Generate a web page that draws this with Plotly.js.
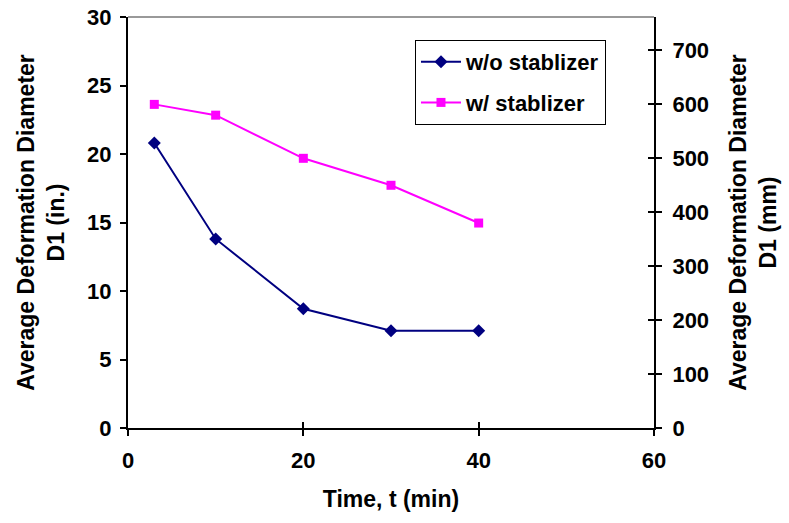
<!DOCTYPE html>
<html>
<head>
<meta charset="utf-8">
<script src="https://cdn.plot.ly/plotly-3.0.1.min.js"></script>
<style>html,body{margin:0;padding:0;background:#fff;}#chart{width:789px;height:523px;}</style>
</head>
<body>
<div id="chart"></div>
<script>
// Data
const timeMin = [3, 10, 20, 30, 40];
const withoutStabilizerIn = [20.8, 13.8, 8.7, 7.1, 7.1];   // left axis, inches
const withStabilizerMm = [600, 580, 500, 450, 380];         // right axis, mm
const seriesNames = ['w/o stablizer', 'w/ stablizer'];

const fam = '"Liberation Sans", Arial, sans-serif';
const tickFont = {family: fam, size: 22, color: '#000', weight: 'bold'};
const titleFont = {family: fam, size: 23, color: '#000', weight: 'bold'};
const legendFont = {family: fam, size: 22, color: '#000', weight: 'bold'};

const traces = [
  {x: timeMin, y: withoutStabilizerIn, name: seriesNames[0], type: 'scatter', mode: 'lines+markers',
   line: {color: '#000080', width: 2}, marker: {symbol: 'diamond', size: 10, color: '#000080'},
   yaxis: 'y', legendgroup: 'a'},
  {x: timeMin, y: withStabilizerMm, name: seriesNames[1], type: 'scatter', mode: 'lines+markers',
   line: {color: '#FF00FF', width: 2}, marker: {symbol: 'square', size: 9, color: '#FF00FF'},
   yaxis: 'y2', legendgroup: 'b'}
];

const layout = {
  width: 789, height: 523,
  margin: {l: 128, r: 135, t: 17, b: 95},
  paper_bgcolor: '#fff', plot_bgcolor: '#fff',
  font: tickFont,
  showlegend: true,
  legend: {x: 0.5456, y: 0.944, xanchor: 'left', yanchor: 'top',
           bordercolor: '#000', borderwidth: 1, bgcolor: '#fff',
           font: legendFont, tracegroupgap: 9, traceorder: 'grouped', itemwidth: 40},
  xaxis: {range: [0, 60], dtick: 20, tick0: 0, showgrid: false, zeroline: false,
          showline: true, linecolor: '#000', linewidth: 2, ticks: 'outside', ticklen: 6, tickwidth: 2, tickcolor: '#000',
          tickfont: tickFont, ticklabelstandoff: 6,
          title: {text: 'Time, t (min)', font: titleFont, standoff: 18}},
  xaxis2: {range: [0, 60], dtick: 20, tick0: 0, overlaying: 'x', showgrid: false, zeroline: false,
           showticklabels: false, ticks: 'inside', ticklen: 6, tickwidth: 2, tickcolor: '#000', showline: false},
  yaxis: {range: [0, 30], dtick: 5, showgrid: false, zeroline: false,
          showline: true, linecolor: '#000', linewidth: 2, ticks: 'outside', ticklen: 6, tickwidth: 2, tickcolor: '#000',
          tickfont: tickFont, ticklabelstandoff: 4,
          title: {text: 'Average Deformation Diameter<br>D1 (in.)', font: titleFont, standoff: 16}},
  yaxis2: {range: [0, 762], dtick: 100, overlaying: 'y', side: 'right', showgrid: false, zeroline: false,
           showline: true, linecolor: '#000', linewidth: 2, ticks: 'outside', ticklen: 6, tickwidth: 2, tickcolor: '#000',
           tickfont: tickFont, ticklabelstandoff: 6,
           title: {text: 'Average Deformation Diameter<br>D1 (mm)', font: titleFont, standoff: 22}},
  yaxis3: {range: [0, 762], dtick: 100, overlaying: 'y', side: 'right', anchor: 'x', showgrid: false, zeroline: false,
           showticklabels: false, ticks: 'inside', ticklen: 6, tickwidth: 2, tickcolor: '#000', showline: false},
  shapes: [{type: 'line', xref: 'paper', yref: 'paper', x0: 0, x1: 1, y0: 1, y1: 1,
            line: {color: '#999', width: 2}}]
};

// dummy trace to activate the tick-only axes
traces.push({x: [null], y: [null], xaxis: 'x2', yaxis: 'y3', showlegend: false, hoverinfo: 'skip', type: 'scatter'});

Plotly.newPlot('chart', traces, layout, {displayModeBar: false, staticPlot: true});
</script>
</body>
</html>
